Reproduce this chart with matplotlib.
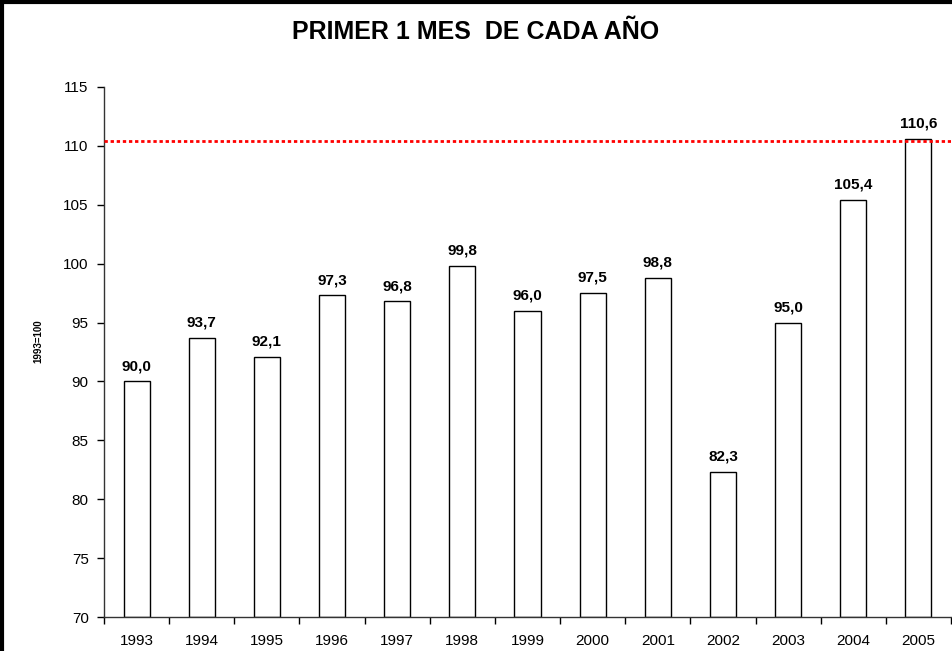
import matplotlib.pyplot as plt
import numpy as np

plt.rcParams['font.family'] = ['Liberation Sans', 'DejaVu Sans']

# data
years = ["1993", "1994", "1995", "1996", "1997", "1998", "1999",
         "2000", "2001", "2002", "2003", "2004", "2005"]
values = [90.0, 93.7, 92.1, 97.3, 96.8, 99.8, 96.0,
          97.5, 98.8, 82.3, 95.0, 105.4, 110.6]
ref_level = 110.4

fig = plt.figure(figsize=(9.52, 6.51), dpi=100)
ax = fig.add_axes([0.1092, 0.0522, 0.8898, 0.8142])

x = np.arange(len(years))
ax.bar(x, np.array(values) - 70, bottom=70, width=0.4,
       color="white", edgecolor="black", linewidth=1.0, zorder=2)

# value labels with comma decimal
for xi, v in zip(x, values):
    ax.annotate("{:.1f}".format(v).replace(".", ","), xy=(xi, v),
                xytext=(0, 6), textcoords="offset points",
                ha="center", va="bottom", fontsize=11, fontweight="bold")

# reference line
ax.axhline(ref_level, color="red", linestyle=(0, (1.2, 1.0)), linewidth=2.0, zorder=3)

ax.set_xlim(-0.5, len(years) - 0.5)
ax.set_ylim(70, 115)
ax.set_yticks(np.arange(70, 116, 5))
ax.set_xticks(x)
ax.set_xticklabels(years)
ax.set_xticks(np.arange(-0.5, len(years), 1), minor=True)
ax.tick_params(axis="x", which="major", length=0, pad=12, labelsize=11)
ax.tick_params(axis="x", which="minor", length=5, direction="out", width=1)
ax.tick_params(axis="y", length=5, width=1, direction="out", labelsize=11, pad=6)

for s in ["top", "right"]:
    ax.spines[s].set_visible(False)
for s in ["left", "bottom"]:
    ax.spines[s].set_linewidth(1.0)
    ax.spines[s].set_color("#333333")

ax.set_ylabel("1993=100", fontsize=7, fontweight="bold")
ax.yaxis.set_label_coords(-0.072, 0.52)

fig.text(0.5, 0.951, "PRIMER 1 MES  DE CADA AÑO", ha="center", va="center",
         fontsize=18, fontweight="bold")

# outer chart frame (left and top visible in the crop)
fig.add_artist(plt.Line2D([0.002, 0.002], [0, 1], color="black", linewidth=3,
                          transform=fig.transFigure))
fig.add_artist(plt.Line2D([0, 1], [0.997, 0.997], color="black", linewidth=3,
                          transform=fig.transFigure))

fig.savefig("out.png", dpi=100)
